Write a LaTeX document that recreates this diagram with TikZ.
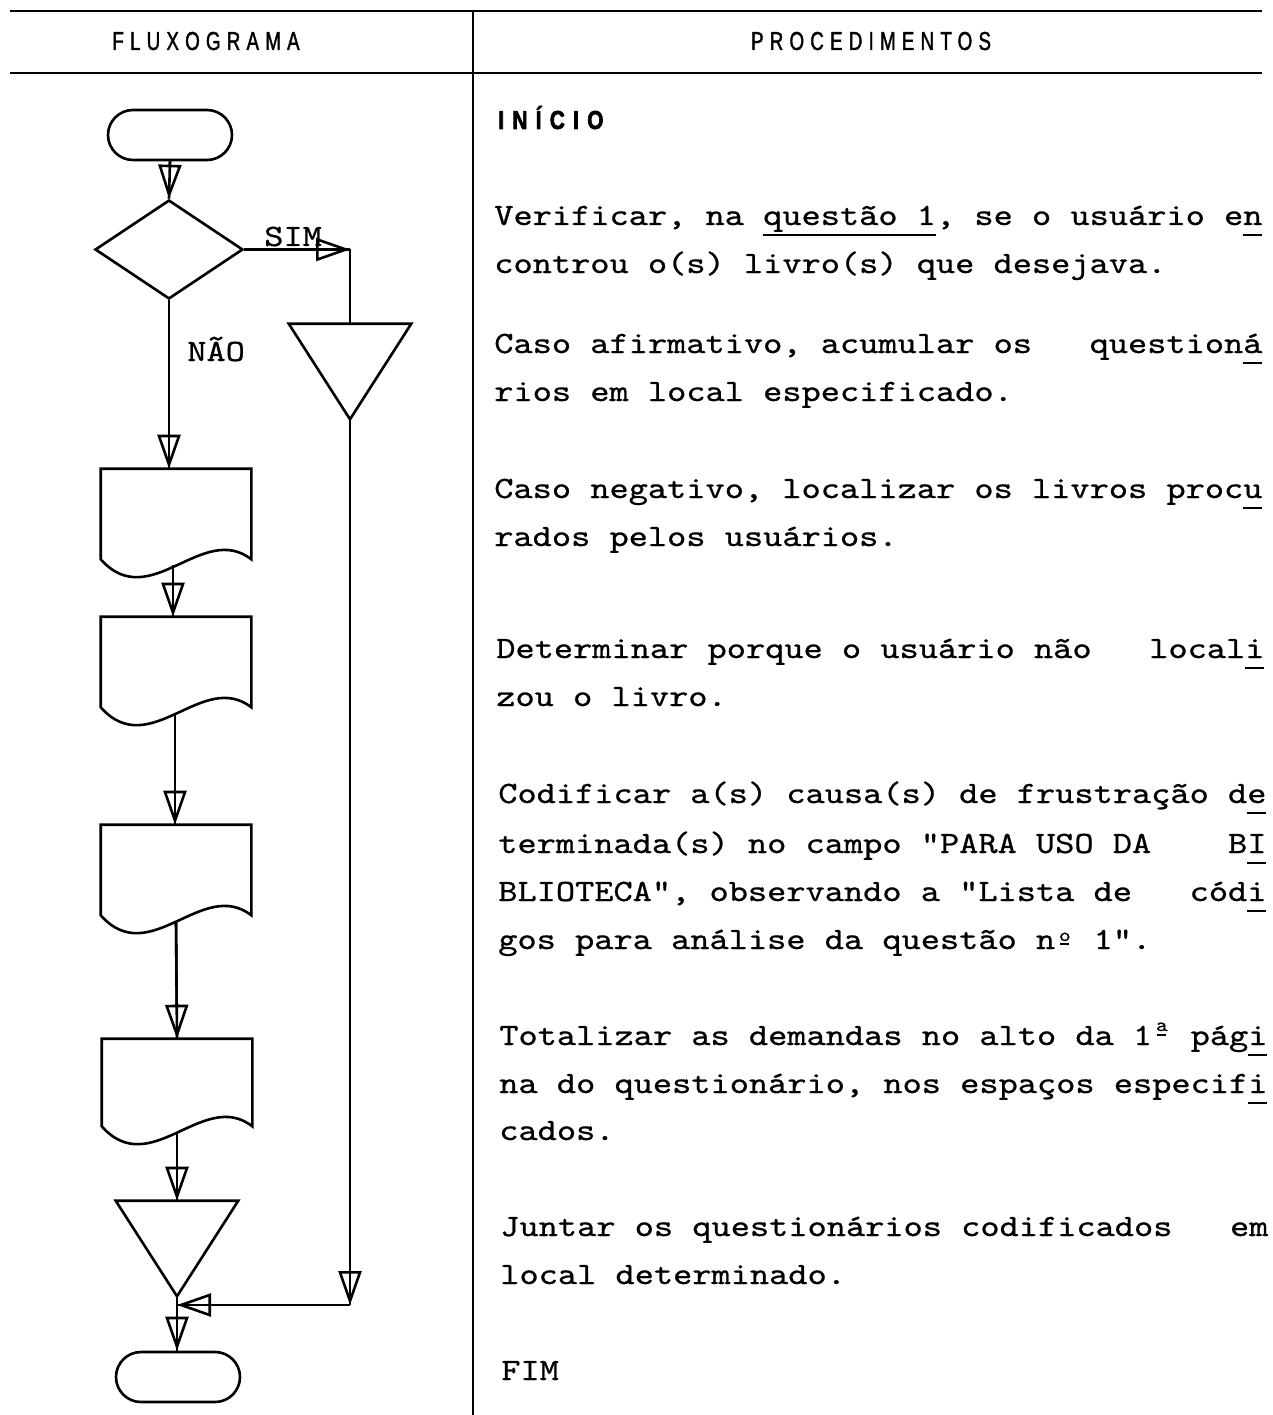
\documentclass[tikz,border=0pt]{standalone}
\usepackage{fontspec}
\usetikzlibrary{arrows.meta,shapes.geometric,calc}
\newfontfamily\typew{lmmono10-regular.otf}[FakeStretch=1.18,FakeBold=0.7]
\newfontfamily\headf{Liberation Sans}[FakeStretch=0.72,LetterSpace=24,FakeBold=1.5]
\newfontfamily\startf{Liberation Sans Bold}[FakeStretch=0.8,LetterSpace=32,FakeBold=2.5]
% underlined characters, as on the typewriter
\newcommand\tul[1]{\setbox0\hbox{#1}\rlap{\rule[-11pt]{\wd0}{1.8pt}}\box0}
% raised ordinal mark (a or o) with its dash, one character cell wide
\newcommand\ordmark[3]{\makebox[\fontcharwd\font`\n][c]{\ooalign{\hfil\raisebox{#2}{\fontsize{19}{19}\selectfont #1}\hfil\cr\hfil\rule[#3]{9pt}{1.8pt}\hfil\cr}}}
\begin{document}
\begin{tikzpicture}[x=1pt,y=-1pt,line width=2.6pt,
  term/.style={draw,rectangle,rounded corners=25pt,minimum width=124pt,minimum height=50pt,inner sep=0pt},
  decision/.style={draw,diamond,minimum width=148pt,minimum height=99pt,inner sep=0pt},
  docbox/.style={rectangle,minimum width=148pt,minimum height=88pt,inner sep=0pt},
  tribox/.style={rectangle,minimum width=120pt,minimum height=93pt,inner sep=0pt},
  flow/.style={-{Triangle[open,length=34pt,width=23pt]},postaction={draw,-}},
  rule/.style={line width=2pt},
  txt/.style={anchor=base west,inner sep=0pt,font={\typew\fontsize{31}{31}\selectfont}},
  head/.style={anchor=base,inner sep=0pt,font={\headf\fontsize{26}{26}\selectfont}}]
\useasboundingbox (0,0) rectangle (1272,1415);
\fill[white] (0,0) rectangle (1272,1415);

% table frame
\coordinate (tl) at (10,11);
\coordinate (tr) at (1262,11);
\coordinate (hl) at (10,73);
\coordinate (hr) at (1262,73);
\coordinate (vt) at (473,11);
\coordinate (vb) at (473,1415);
\draw[rule] (tl) -- (tr);
\draw[rule] (hl) -- (hr);
\draw[rule] (vt) -- (vb);
\node[head] (h1) at (206,50) {FLUXOGRAMA};
\node[head] (h2) at (871,50) {PROCEDIMENTOS};

% flowchart shapes
\node[term] (start) at (170,135) {};
\node[decision] (dec) at (169,249.5) {};
\node[docbox] (d1) at (176,514) {};
\node[docbox] (d2) at (176,662) {};
\node[docbox] (d3) at (176,870) {};
\node[docbox,minimum height=85pt] (d4) at (177,1082.5) {};
\node[tribox] (tri1) at (350,371.5) {};
\node[tribox] (tri2) at (177,1248.5) {};
\node[term] (stop) at (178,1377) {};
\foreach \d in {d1,d2,d3,d4}
  \draw (\d.north west) -- (\d.north east) -- (\d.south east)
        .. controls +(-49,-38) and +(49,55) .. (\d.south west) -- cycle;
\foreach \t in {tri1,tri2}
  \draw (\t.north west) -- (\t.north east) -- (\t.south) -- cycle;

% connectors
\draw[flow] (start.south) -- (dec.north);
\draw[flow] (dec.south) -- (dec.south |- d1.north);
\draw[flow] ($(d1.south)+(-3,6)$) -- ($(d2.north)+(-3,0)$);
\draw[flow] ($(d2.south)+(-1,6)$) -- ($(d3.north)+(-1,0)$);
\draw[flow] ($(d3.south)+(0,6)$) -- (d4.north);
\draw[flow] ($(d4.south)+(0,6)$) -- (tri2.north);
\draw[flow] (tri2.south) -- (tri2.south |- stop.north);
\coordinate (simc) at (tri1.north |- dec.east);
\draw[flow] (dec.east) -- (simc);
\draw (simc) -- (tri1.north);
\coordinate (rc) at (tri1.south |- 0,1305);
\coordinate (join) at (tri2.south |- rc);
\draw[flow] (tri1.south) -- (rc);
\draw[flow] (rc) -- (join);
\node[txt] (sim) at (263,246) {SIM};
\node[txt] (nao) at (186,361) {NÃO};

% procedures
\node[anchor=base west,inner sep=0pt,font={\startf\fontsize{26}{26}\selectfont}] (ini) at (497,129) {INÍCIO};
\node[txt] (p1) at (493,225) {Verificar, na \tul{questão~1}, se o usuário e\tul{n}};
\node[txt] (p2) at (493,273) {controu o(s) livro(s) que desejava.};
\node[txt] (p3) at (493,353) {Caso afirmativo, acumular os~~~question\tul{á}};
\node[txt] (p4) at (493,401) {rios em local especificado.};
\node[txt] (p5) at (493,498) {Caso negativo, localizar os livros proc\tul{u}};
\node[txt] (p6) at (493,546) {rados pelos usuários.};
\node[txt] (p7) at (495,658) {Determinar porque o usuário não~~~local\tul{i}};
\node[txt] (p8) at (495,706) {zou o livro.};
\node[txt] (p9) at (497,803) {Codificar a(s) causa(s) de frustração d\tul{e}};
\node[txt] (p10) at (497,853) {terminada(s) no campo "PARA USO DA~~~~B\tul{I}};
\node[txt] (p11) at (497,901) {BLIOTECA", observando a "Lista de~~~cód\tul{i}};
\node[txt] (p12) at (497,949) {gos para análise da questão n\ordmark{o}{8pt}{4pt} 1".};
\node[txt] (p13) at (498,1045) {Totalizar as demandas no alto da 1\ordmark{a}{14pt}{9pt} pág\tul{i}};
\node[txt] (p14) at (498,1093) {na do questionário, nos espaços especif\tul{i}};
\node[txt] (p15) at (498,1140) {cados.};
\node[txt] (p16) at (499,1236) {Juntar os questionários codificados~~~em};
\node[txt] (p17) at (499,1284) {local determinado.};
\node[txt] (p18) at (500,1380) {FIM};
\end{tikzpicture}
\end{document}
